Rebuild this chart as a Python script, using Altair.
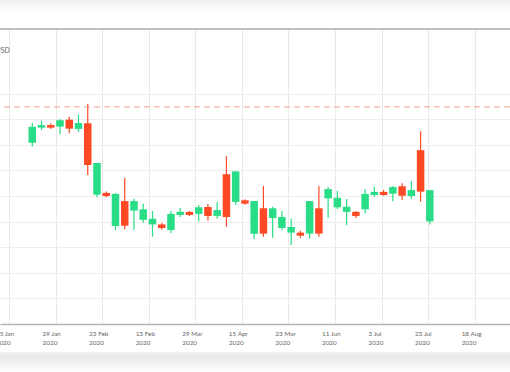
import altair as alt
import pandas as pd

# ---- data ----
OPEN = [170.8, 176.7, 177.7, 177.1, 179.8, 176.2, 178.4, 150.5, 151.2, 138.3,
        148.0, 144.3, 140.7, 138.9, 138.9, 136.7, 142.6, 143.8, 143.0, 145.7,
        142.2, 158.5, 147.7, 148.3, 135.3, 145.2, 141.4, 137.5, 135.7, 135.7,
        135.3, 145.2, 149.1, 145.6, 143.8, 143.8, 144.8, 150.4, 151.6, 150.9,
        153.8, 150.0, 167.9, 140.1]
HIGH = [178.6, 179.3, 178.4, 180.1, 181.0, 181.8, 185.9, 162.9, 151.8, 151.2,
        157.0, 148.9, 147.1, 144.1, 139.5, 144.1, 145.4, 144.1, 146.5, 146.9,
        147.7, 165.6, 159.6, 148.7, 148.0, 153.9, 145.8, 144.1, 141.1, 136.4,
        148.0, 153.9, 153.5, 152.0, 148.8, 144.1, 152.7, 153.5, 152.3, 153.9,
        155.0, 155.9, 175.3, 152.3]
LOW = [169.3, 175.8, 176.2, 174.1, 174.5, 175.0, 158.2, 149.5, 149.5, 136.6,
       137.0, 136.7, 139.6, 134.1, 136.8, 135.5, 141.8, 142.2, 140.0, 140.4,
       141.1, 138.0, 146.5, 146.6, 133.3, 134.1, 133.7, 136.7, 130.9, 133.7,
       133.3, 134.1, 141.5, 144.9, 138.6, 141.4, 143.2, 149.7, 150.1, 147.9,
       148.4, 148.9, 147.8, 138.9]
CLOSE = [177.0, 177.7, 176.7, 179.6, 176.3, 178.5, 162.1, 162.9, 150.0, 150.8,
         138.4, 148.0, 144.8, 141.1, 137.5, 143.0, 143.8, 142.6, 145.6, 142.2,
         144.5, 141.8, 159.6, 147.0, 148.0, 135.3, 145.2, 141.8, 137.9, 134.5,
         148.0, 135.3, 152.7, 149.3, 145.8, 142.2, 150.8, 151.6, 150.4, 153.5,
         150.1, 152.3, 151.7, 152.3]
IDX = list(range(len(OPEN)))

TICK_POS = [-2.524, 2.513, 7.550, 12.587, 17.625, 22.662, 27.699, 32.736,
            37.773, 42.810, 47.847]
TICK_DAYS = ["15 Jan", "29 Jan", "23 Feb", "13 Feb", "29 Mar", "15 Apr",
             "23 Mar", "11 Jun", "3 Jul", "23 Jul", "18 Aug"]
TICK_YEARS = ["2020"] * 11
Y_GRID = [100, 110, 120, 130, 140, 150, 160, 170, 180, 190]
REF_LEVEL = [184.8]
UNIT = "USD"

GREEN = "#29dc86"
RED = "#ff4924"

df = pd.DataFrame({"i": IDX, "open": OPEN, "high": HIGH, "low": LOW, "close": CLOSE})
ticks_df = pd.DataFrame({"pos": TICK_POS, "day": TICK_DAYS, "year": TICK_YEARS})
one = pd.DataFrame({"k": [0]})

x_scale = alt.Scale(domain=[-2.95, 51.13], nice=False, zero=False)
y_scale = alt.Scale(domain=[100, 215.23], nice=False, zero=False)

x_axis = alt.Axis(values=TICK_POS, labels=False, title=None, grid=True,
                  gridColor="#e9e9e9", gridWidth=1, ticks=False, domain=True,
                  domainColor="#b4b4b4", domainWidth=1.5)
y_axis = alt.Axis(values=Y_GRID, labels=False, ticks=False, domain=False, title=None,
                  grid=True, gridColor="#ededed", gridWidth=1)

x_enc = alt.X("i:Q", scale=x_scale, axis=x_axis)
color_enc = alt.Color("dir:N", scale=alt.Scale(domain=["up", "down"], range=[GREEN, RED]),
                      legend=None)

top_band = alt.Chart(one).mark_rect(
    color=alt.Gradient(gradient="linear",
                       stops=[alt.GradientStop(color="#f1f1f1", offset=0),
                              alt.GradientStop(color="#ffffff", offset=1)],
                       x1=0, x2=0, y1=0, y2=1)
).encode(x=alt.value(0), x2=alt.value(510), y=alt.value(-29), y2=alt.value(-17))

bottom_shadow = alt.Chart(one).mark_rect(
    color=alt.Gradient(gradient="linear",
                       stops=[alt.GradientStop(color="#f2f2f2", offset=0),
                              alt.GradientStop(color="#e9e9e9", offset=0.25),
                              alt.GradientStop(color="#ffffff", offset=1)],
                       x1=0, x2=0, y1=0, y2=1)
).encode(x=alt.value(0), x2=alt.value(510), y=alt.value(323), y2=alt.value(343))

top_line = alt.Chart(one).mark_rule(color="#acacac", strokeWidth=1.5).encode(
    x=alt.value(0), x2=alt.value(510), y=alt.value(0))

unit_text = alt.Chart(one).mark_text(
    text=UNIT, align="left", baseline="alphabetic", fontSize=7, font="Lato",
    color="#666666").encode(x=alt.value(-4.5), y=alt.value(24))

base = alt.Chart(df).transform_calculate(
    dir="datum.close >= datum.open ? 'up' : 'down'")

wicks = base.mark_rule(strokeWidth=1.2).encode(
    x=x_enc,
    y=alt.Y("low:Q", scale=y_scale, axis=y_axis),
    y2="high:Q",
    color=color_enc,
)
bodies = base.mark_bar(size=7.5).encode(
    x=x_enc,
    y=alt.Y("open:Q", scale=y_scale, axis=y_axis),
    y2="close:Q",
    color=color_enc,
)

ref = alt.Chart(pd.DataFrame({"level": REF_LEVEL})).mark_rule(
    color="#f4a08f", strokeWidth=1, strokeDash=[6, 4]
).encode(y=alt.Y("level:Q", scale=y_scale, axis=y_axis))

tick_labels = alt.Chart(ticks_df).transform_calculate(
    txt="datum.day + '\\n' + datum.year"
).mark_text(
    align="left", baseline="top", dx=-13, fontSize=6.4, font="Lato",
    color="#666666", lineBreak="\n", lineHeight=8.5
).encode(
    x=alt.X("pos:Q", scale=x_scale, axis=x_axis),
    y=alt.value(302),
    text="txt:N",
)

chart = alt.layer(top_band, bottom_shadow, wicks, bodies, ref, top_line, unit_text,
                  tick_labels).properties(
    width=510, height=295,
    autosize=alt.AutoSizeParams(type="none"),
    padding={"left": 0, "right": 0, "top": 29, "bottom": 48},
    background="white",
).configure_view(stroke=None)

chart.save("out.html", embed_options={"renderer": "svg", "actions": False})
